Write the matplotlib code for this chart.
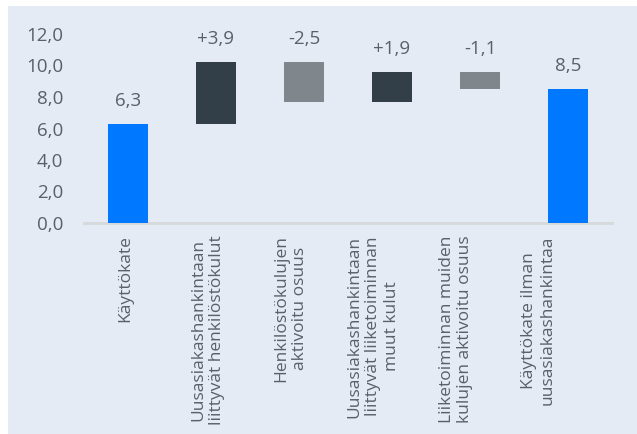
import numpy as np
import matplotlib.pyplot as plt
from matplotlib.patches import Rectangle

plt.rcParams['font.family'] = ['Open Sans', 'DejaVu Sans']

# Data
categories = [
    "Käyttökate",
    "Uusasiakashankintaan\nliittyvät henkilöstökulut",
    "Henkilöstökulujen\naktivoitu osuus",
    "Uusasiakashankintaan\nliittyvät liiketoiminnan\nmuut kulut",
    "Liiketoiminnan muiden\nkulujen aktivoitu osuus",
    "Käyttökate ilman\nuusasiakashankintaa",
]
changes = [6.3, 3.9, -2.5, 1.9, -1.1, 8.5]
is_total = [True, False, False, False, False, True]
value_labels = ["6,3", "+3,9", "-2,5", "+1,9", "-1,1", "8,5"]
yticks = [0, 2, 4, 6, 8, 10, 12]

blue = "#0078FF"
dark = "#333F48"
grey = "#7F878C"
text_col = "#5A6068"
bg = "#E5EBF5"

# waterfall bottoms / heights
bottoms = []
heights = []
level = 0.0
for v, tot in zip(changes, is_total):
    if tot:
        bottoms.append(0.0)
        heights.append(v)
        level = v
    else:
        bottoms.append(min(level, level + v))
        heights.append(abs(v))
        level = level + v

colors = []
for v, tot in zip(changes, is_total):
    if tot:
        colors.append(blue)
    elif v > 0:
        colors.append(dark)
    else:
        colors.append(grey)

fig = plt.figure(figsize=(6.37, 4.34), dpi=100)
fig.patch.set_facecolor("white")
fig.patches.append(Rectangle((8 / 637, 0), 1, 1 - 6 / 434, transform=fig.transFigure,
                             facecolor=bg, edgecolor="none", zorder=-10))

ax = fig.add_axes([84 / 637, 211 / 434, 528 / 637, 189 / 434])
ax.set_facecolor("none")

x = np.arange(len(categories))
ax.bar(x, heights, bottom=bottoms, width=0.465, color=colors, zorder=2)

for xi, b, h, lab in zip(x, bottoms, heights, value_labels):
    ax.annotate(lab, (xi, b + h), xytext=(0, 10), textcoords="offset points",
                ha="center", va="bottom", fontsize=13.5, color=text_col,
                annotation_clip=False)

ax.set_xlim(-0.5, 5.5)
ax.set_ylim(0, 12)
ax.set_yticks(yticks)
ax.set_yticklabels([f"{t:.1f}".replace(".", ",") for t in yticks],
                   fontsize=13.5, color=text_col)
ax.tick_params(axis="y", length=0, pad=15)

# category labels sit on a slightly tighter spacing than the bars
label_pos = x * 0.939 - 0.03
ax.set_xticks(label_pos)
ax.set_xticklabels(categories, rotation=90, fontsize=12.5, color=text_col,
                   va="top", ha="center", multialignment="center",
                   linespacing=1.22)
ax.tick_params(axis="x", length=0, pad=9)

for s in ["top", "right", "left"]:
    ax.spines[s].set_visible(False)
ax.spines["bottom"].set_color("#D6D8DA")
ax.spines["bottom"].set_linewidth(2)
ax.spines["bottom"].set_zorder(1)

fig.savefig("out.png", dpi=100)
